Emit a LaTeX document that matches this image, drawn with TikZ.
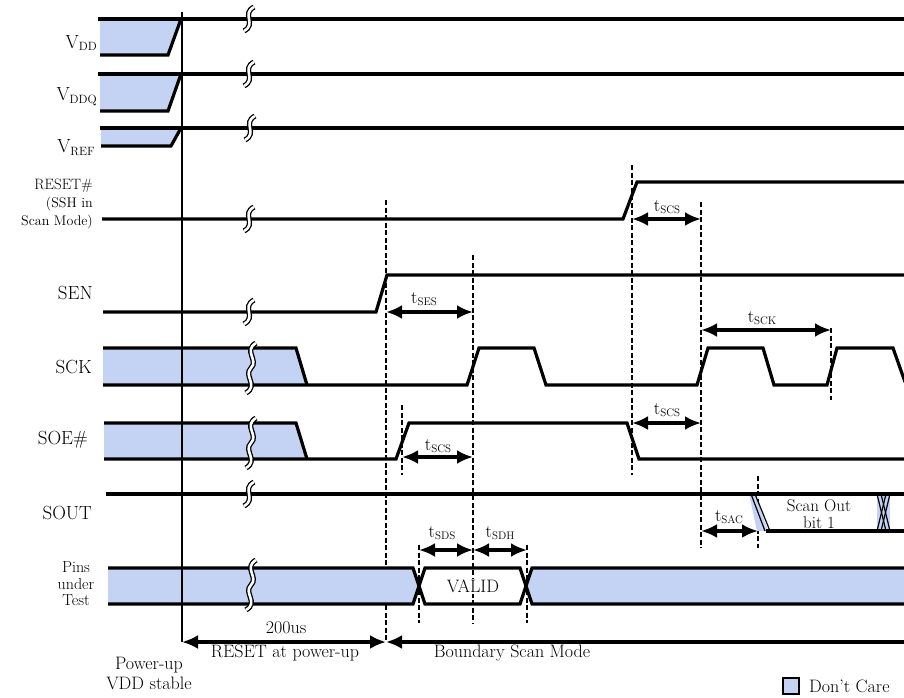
\documentclass[tikz,border=0pt]{standalone}
\usepackage{tikz}
\usetikzlibrary{arrows.meta}
\definecolor{dcblue}{RGB}{196,211,243}
\newcommand{\tsig}[1]{t\raisebox{-0.35ex}{\fontsize{11}{11}\selectfont #1}}
\newcommand{\vsig}[1]{V\raisebox{-0.35ex}{\fontsize{12}{12}\selectfont #1}}
\newcommand{\shortbreak}[2]{\draw[brk] (#1+5,#2-12) .. controls (#1-8,#2-5) and (#1+8,#2+5) .. (#1-5,#2+12);}
\newcommand{\tallbreak}[2]{\draw[brk] (#1+5,#2) .. controls (#1-8,#2+8) and (#1+8,#2+17) .. (#1,#2+25) .. controls (#1-8,#2+33) and (#1+8,#2+42) .. (#1-5,#2+50);}
\tikzset{
  sigline/.style={line width=3.2pt},
  thinline/.style={line width=1.2pt},
  dcfill/.style={fill=dcblue},
  guide/.style={line width=1.2pt, dash pattern=on 5pt off 2.5pt},
  dimarrow/.style={{Latex[length=16pt,width=14pt]}-{Latex[length=16pt,width=14pt]}, line width=3.2pt},
  leftarrow/.style={{Latex[length=16pt,width=14pt]}-, line width=3.2pt},
  brk/.style={double=white, double distance=2.6pt, line width=1.3pt},
  signame/.style={anchor=east, inner sep=0pt, font=\fontsize{19}{21}\selectfont},
  tlabel/.style={inner sep=0pt, font=\fontsize{18}{20}\selectfont},
  note/.style={inner sep=0pt, align=center, font=\fontsize{18}{20}\selectfont}
}

\begin{document}
\begin{tikzpicture}[x=1pt, y=-1pt, >=Latex]
  \useasboundingbox (0,0) rectangle (904,698);

  \draw[guide] (386,200) -- (386,642);
  \draw[guide] (402,405) -- (402,475);
  \draw[guide] (473,255) -- (473,623);
  \draw[guide] (419,545) -- (419,623);
  \draw[guide] (527,545) -- (527,623);
  \draw[guide] (632,165) -- (632,475);
  \draw[guide] (701,202) -- (701,548);
  \draw[guide] (831,328) -- (831,400);
  \draw[guide] (758,476) -- (758,548);

  \fill[dcfill] (100,19) -- (181,19) -- (168,55) -- (100,55) -- cycle;
  \fill[dcfill] (100,74) -- (181,74) -- (168,111) -- (100,111) -- cycle;
  \fill[dcfill] (101,128) -- (181,128) -- (171,146) -- (101,146) -- cycle;
  \fill[dcfill] (103,348) -- (296,348) -- (307,385) -- (103,385) -- cycle;
  \fill[dcfill] (104,423) -- (296,423) -- (307,459) -- (104,459) -- cycle;
  \fill[dcfill] (108,568) -- (413,568) -- (419,586) -- (413,604) -- (108,604) -- cycle;
  \fill[dcfill] (904,568) -- (532,568) -- (526,586) -- (532,604) -- (904,604) -- cycle;
  \fill[dcfill] (749,494) -- (755,494) -- (768,531) -- (757,531) -- cycle;
  \fill[dcfill] (877,494) rectangle (890,531);

  \draw[thinline] (182,12) -- (182,642);

  \draw[sigline] (98,19) -- (904,19);
  \draw[sigline] (100,55) -- (168,55) -- (181,19);
  \draw[sigline] (98,74) -- (904,74);
  \draw[sigline] (100,111) -- (168,111) -- (181,74);
  \draw[sigline] (100,128) -- (904,128);
  \draw[sigline] (101,146) -- (171,146) -- (181,128);
  \draw[sigline] (102,219) -- (623,219) -- (637,182) -- (904,182);
  \draw[sigline] (103,312) -- (376,312) -- (387,275) -- (904,275);
  \draw[sigline] (103,348) -- (296,348) -- (307,385);
  \draw[sigline] (103,385) -- (467,385) -- (479,348) -- (534,348) -- (546,385) -- (697,385) -- (708,348) -- (763,348) -- (774,385) -- (827,385) -- (837,348) -- (893,348) -- (905,382);
  \draw[sigline] (104,423) -- (296,423) -- (307,459);
  \draw[sigline] (104,459) -- (396,459) -- (409,423) -- (627,423) -- (639,459) -- (904,459);
  \draw[sigline] (106,494) -- (904,494);
  \draw[sigline] (766,531) -- (904,531);
  \draw[thinline] (751,494) -- (765,531);
  \draw[thinline] (755,494) -- (770,531);
  \draw[thinline] (877,494) -- (886,531);
  \draw[thinline] (881,494) -- (890,531);
  \draw[thinline] (886,494) -- (877,531);
  \draw[thinline] (890,494) -- (881,531);
  \draw[sigline] (108,568) -- (413,568) -- (425,604) -- (520,604) -- (532,568) -- (904,568);
  \draw[sigline] (108,604) -- (413,604) -- (425,568) -- (520,568) -- (532,604) -- (904,604);

  \shortbreak{249}{19}
  \shortbreak{249}{74}
  \shortbreak{250}{128}
  \shortbreak{249}{219}
  \shortbreak{249}{312}
  \tallbreak{251}{343}
  \tallbreak{251}{418}
  \shortbreak{249}{494}
  \tallbreak{251}{560}

  \coordinate (rscs0) at (632,219);
  \coordinate (rscs1) at (701,219);
  \coordinate (ses0) at (386,312);
  \coordinate (ses1) at (473,312);
  \coordinate (sck0) at (701,330);
  \coordinate (sck1) at (831,330);
  \coordinate (oscs0) at (632,423);
  \coordinate (oscs1) at (701,423);
  \coordinate (scs0) at (402,457);
  \coordinate (scs1) at (473,457);
  \coordinate (sac0) at (701,531);
  \coordinate (sac1) at (758,531);
  \coordinate (sds0) at (419,550);
  \coordinate (sds1) at (473,550);
  \coordinate (sdh1) at (527,550);
  \coordinate (pwr0) at (182,642);
  \coordinate (pwr1) at (386,642);
  \coordinate (bsm1) at (904,642);

  \draw[dimarrow] (rscs0) -- (rscs1);
  \draw[dimarrow] (ses0) -- (ses1);
  \draw[dimarrow] (sck0) -- (sck1);
  \draw[dimarrow] (oscs0) -- (oscs1);
  \draw[dimarrow] (scs0) -- (scs1);
  \draw[dimarrow] (sac0) -- (sac1);
  \draw[dimarrow] (sds0) -- (sds1);
  \draw[dimarrow] (sds1) -- (sdh1);
  \draw[dimarrow] (pwr0) -- (pwr1);
  \draw[leftarrow] (pwr1) -- (bsm1);

  \node[tlabel] (lrscs) at (667,207) {\tsig{SCS}};
  \node[tlabel] (lses) at (424,299) {\tsig{SES}};
  \node[tlabel] (lsck) at (762,318) {\tsig{SCK}};
  \node[tlabel] (loscs) at (667,410) {\tsig{SCS}};
  \node[tlabel] (lscs) at (438,446) {\tsig{SCS}};
  \node[tlabel] (lsac) at (729,517) {\tsig{SAC}};
  \node[tlabel] (lsds) at (442,533) {\tsig{SDS}};
  \node[tlabel] (lsdh) at (500,533) {\tsig{SDH}};

  \node[signame] (nvdd) at (97,43) {\vsig{DD}};
  \node[signame] (nvddq) at (97,97) {\vsig{DDQ}};
  \node[signame] (nvref) at (95,148) {\vsig{REF}};
  \node[signame, font=\fontsize{15}{17}\selectfont] (nreset) at (93,186) {RESET\#};
  \node[signame, align=right, font=\fontsize{14}{18}\selectfont] (nssh) at (93,213) {(SSH in\\Scan Mode)};
  \node[signame] (nsen) at (93,293) {SEN};
  \node[signame] (nsck) at (92,367) {SCK};
  \node[signame] (nsoe) at (88,440) {SOE\#};
  \node[signame] (nsout) at (92,513) {SOUT};
  \node[note, font=\fontsize{16}{16.5}\selectfont] (npins) at (76,584) {Pins\\under\\Test};

  \node[note, font=\fontsize{17}{16.5}\selectfont] (nscan) at (819,514) {Scan Out\\bit 1};
  \node[note, fill=white, inner sep=1pt] (nvalid) at (473,586) {VALID};

  \node[note] (n200) at (286,628) {200us};
  \node[note] (nrst) at (285,653) {RESET at power-up};
  \node[note] (nbsm) at (512,653) {Boundary Scan Mode};
  \node[note] (npwr) at (149,673) {Power-up\\VDD stable};

  \node[draw, line width=2.2pt, fill=dcblue, minimum size=16pt, inner sep=0pt] (dcbox) at (791,686) {};
  \node[anchor=west, inner sep=0pt, font=\fontsize{18}{20}\selectfont] (dctext) at (809,686) {Don't Care};
\end{tikzpicture}
\end{document}
